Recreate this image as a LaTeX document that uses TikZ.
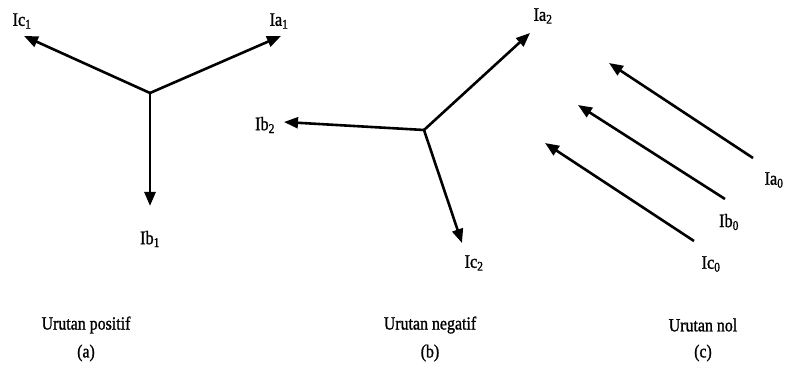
\documentclass[tikz,border=0pt]{standalone}
\usepackage{fontspec}
\setmainfont{Liberation Serif}
\newfontfamily\scanfont[FakeStretch=0.86,FakeBold=1.2]{Liberation Serif}
\usetikzlibrary{arrows.meta}
\tikzset{
  vec/.style={line width=2.6pt, -{Triangle[length=14pt,width=11pt]}},
  lbl/.style={inner sep=0pt, font=\scanfont\fontsize{19}{21}\selectfont},
  captext/.style={inner sep=0pt, font=\scanfont\fontsize{18.5}{21}\selectfont}
}
\newcommand{\sub}[1]{\textsubscript{#1}}
\begin{document}
\begin{tikzpicture}[x=1pt,y=-1pt]
\useasboundingbox[fill=white] (0,0) rectangle (785,387);
% (a) positive sequence
\coordinate (o1) at (150,93);
\coordinate (tc1) at (24,36);
\coordinate (ta1) at (281,36);
\coordinate (tb1) at (150,206);
\draw[vec] (o1) -- (tc1);
\draw[vec] (o1) -- (ta1);
\draw[vec] (o1) -- (tb1);
\node[lbl] (Ic1) at (22,21) {Ic\sub{1}};
\node[lbl] (Ia1) at (279,21) {Ia\sub{1}};
\node[lbl] (Ib1) at (150,239) {Ib\sub{1}};
% (b) negative sequence
\coordinate (o2) at (424,130);
\coordinate (ta2) at (530,33);
\coordinate (tb2) at (284,122);
\coordinate (tc2) at (462,243);
\draw[vec] (o2) -- (ta2);
\draw[vec] (o2) -- (tb2);
\draw[vec] (o2) -- (tc2);
\node[lbl] (Ia2) at (543,16) {Ia\sub{2}};
\node[lbl] (Ib2) at (265,125) {Ib\sub{2}};
\node[lbl] (Ic2) at (474,263) {Ic\sub{2}};
% (c) zero sequence
\coordinate (sa0) at (753,158);
\coordinate (ea0) at (609,63);
\coordinate (sb0) at (725,199);
\coordinate (eb0) at (578,105);
\coordinate (sc0) at (694,241);
\coordinate (ec0) at (545,143);
\draw[vec] (sa0) -- (ea0);
\draw[vec] (sb0) -- (eb0);
\draw[vec] (sc0) -- (ec0);
\node[lbl] (Ia0) at (774,180) {Ia\sub{0}};
\node[lbl] (Ib0) at (729,222) {Ib\sub{0}};
\node[lbl] (Ic0) at (711,264) {Ic\sub{0}};
% captions
\node[captext] (ca) at (86,325) {Urutan positif};
\node[captext] (la) at (86,353) {(a)};
\node[captext] (cb) at (430,325) {Urutan negatif};
\node[captext] (lb) at (430,353) {(b)};
\node[captext] (cc) at (703,325) {Urutan nol};
\node[captext] (lc) at (703,353) {(c)};
\end{tikzpicture}
\end{document}
